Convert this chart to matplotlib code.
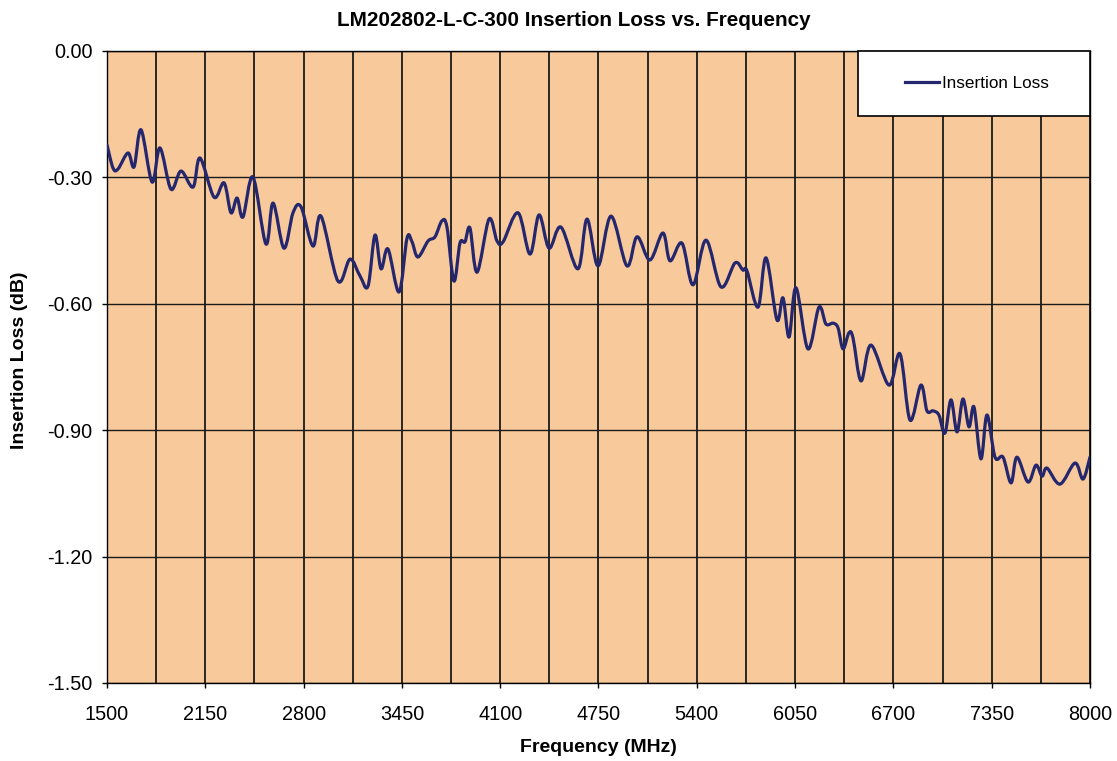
import numpy as np
import matplotlib
matplotlib.use('Agg')
import matplotlib.pyplot as plt
from matplotlib.path import Path
from matplotlib.patches import PathPatch, Rectangle
from matplotlib.lines import Line2D

plt.rcParams['font.family'] = ['Liberation Sans', 'DejaVu Sans']

# (MHz, dB)
freq = [1500, 1540, 1573, 1639, 1679, 1725, 1798, 1850, 1923, 1989,
        2069, 2115, 2208, 2274, 2320, 2360, 2399, 2465, 2551, 2598,
        2670, 2730, 2783, 2862, 2915, 3027, 3107, 3173, 3226, 3272,
        3312, 3358, 3431, 3484, 3517, 3556, 3623, 3669, 3715, 3748,
        3794, 3834, 3867, 3900, 3947, 4026, 4079, 4119, 4218, 4297,
        4357, 4423, 4502, 4614, 4674, 4747, 4833, 4938, 5005, 5090,
        5176, 5223, 5302, 5375, 5461, 5560, 5653, 5705, 5732, 5805,
        5858, 5930, 5970, 6010, 6056, 6135, 6208, 6254, 6301, 6334,
        6367, 6406, 6433, 6486, 6552, 6671, 6744, 6810, 6882, 6922,
        6962, 7001, 7041, 7081, 7121, 7160, 7200, 7233, 7279, 7319,
        7372, 7425, 7478, 7517, 7590, 7643, 7683, 7716, 7802, 7901,
        7954, 8000]
loss = [-0.223, -0.278, -0.280, -0.242, -0.275, -0.187, -0.311, -0.230, -0.328, -0.285,
        -0.323, -0.254, -0.347, -0.313, -0.384, -0.349, -0.394, -0.299, -0.458, -0.361,
        -0.468, -0.384, -0.370, -0.463, -0.392, -0.546, -0.494, -0.534, -0.558, -0.437,
        -0.517, -0.470, -0.572, -0.444, -0.453, -0.489, -0.451, -0.441, -0.403, -0.418,
        -0.546, -0.456, -0.453, -0.420, -0.525, -0.399, -0.451, -0.453, -0.384, -0.482,
        -0.389, -0.468, -0.418, -0.517, -0.399, -0.510, -0.392, -0.510, -0.441, -0.496,
        -0.432, -0.498, -0.456, -0.555, -0.449, -0.560, -0.503, -0.520, -0.522, -0.608,
        -0.491, -0.638, -0.586, -0.679, -0.562, -0.707, -0.608, -0.648, -0.646, -0.657,
        -0.707, -0.669, -0.681, -0.783, -0.698, -0.793, -0.719, -0.876, -0.793, -0.854,
        -0.854, -0.864, -0.907, -0.828, -0.904, -0.826, -0.892, -0.845, -0.968, -0.864,
        -0.964, -0.964, -1.025, -0.964, -1.023, -0.983, -1.009, -0.990, -1.028, -0.978,
        -1.016, -0.964]

x_ticks = [1500, 2150, 2800, 3450, 4100, 4750, 5400, 6050, 6700, 7350, 8000]
y_ticks = [0.0, -0.3, -0.6, -0.9, -1.2, -1.5]

line_col = '#24276E'
bg_col = '#F8C99B'


def smooth_path(xs, ys):
    # excel-style smoothed line: catmull-rom segments as cubic beziers
    p = np.column_stack([xs, ys]).astype(float)
    verts = [p[0]]
    codes = [Path.MOVETO]
    n = len(p)
    for i in range(n - 1):
        p0 = p[i - 1] if i > 0 else p[i]
        p1, p2 = p[i], p[i + 1]
        p3 = p[i + 2] if i + 2 < n else p[i + 1]
        verts += [p1 + (p2 - p0) / 6, p2 - (p3 - p1) / 6, p2]
        codes += [Path.CURVE4] * 3
    return Path(verts, codes)


fig = plt.figure(figsize=(11.17, 7.61), dpi=100)
ax = fig.add_axes([0.0958, 0.1025, 0.8800, 0.8305])
ax.set_facecolor(bg_col)

ax.add_patch(PathPatch(smooth_path(freq, loss), fill=False, ec=line_col,
                       lw=2.3, capstyle='round', joinstyle='round', zorder=3))

ax.set_xlim(1500, 8000)
ax.set_ylim(-1.5, 0)
ax.set_xticks(x_ticks)
ax.set_xticks(np.arange(1500, 8001, 325), minor=True)
ax.set_yticks(y_ticks)
ax.set_yticklabels([f'{v:.2f}' for v in y_ticks])
ax.grid(True, which='both', axis='x', color='#1a1a1a', lw=1.3)
ax.grid(True, which='major', axis='y', color='#1a1a1a', lw=1.0)
ax.set_axisbelow(True)
ax.tick_params(axis='both', which='major', labelsize=14.3, length=3.6, width=1, direction='out')
ax.tick_params(axis='x', which='minor', length=0)
ax.tick_params(axis='x', pad=12.5)
ax.tick_params(axis='y', pad=7)
for s in ax.spines.values():
    s.set_color('black')
    s.set_linewidth(1)

ax.set_xlabel('Frequency (MHz)', fontsize=14, fontweight='bold')
ax.xaxis.set_label_coords(0.5, -0.088)
ax.set_ylabel('Insertion Loss (dB)', fontsize=14, fontweight='bold')
ax.yaxis.set_label_coords(-0.0804, 0.511)
fig.text(0.514, 0.9658, 'LM202802-L-C-300 Insertion Loss vs. Frequency',
         fontsize=14.9, fontweight='bold', ha='center', va='baseline')

# legend box in the top right corner
ax.add_patch(Rectangle((0.764, 0.897), 0.236, 0.103, transform=ax.transAxes,
                       fc='white', ec='black', lw=1.2, zorder=4, clip_on=False))
ax.legend(handles=[Line2D([], [], color=line_col, lw=2.3)], labels=['Insertion Loss'],
          loc='center left', bbox_to_anchor=(0.812, 0.948), frameon=False,
          fontsize=12.3, handlelength=2.0, handletextpad=0.15, borderpad=0,
          borderaxespad=0).set_zorder(5)

fig.savefig('out.png', dpi=100)
